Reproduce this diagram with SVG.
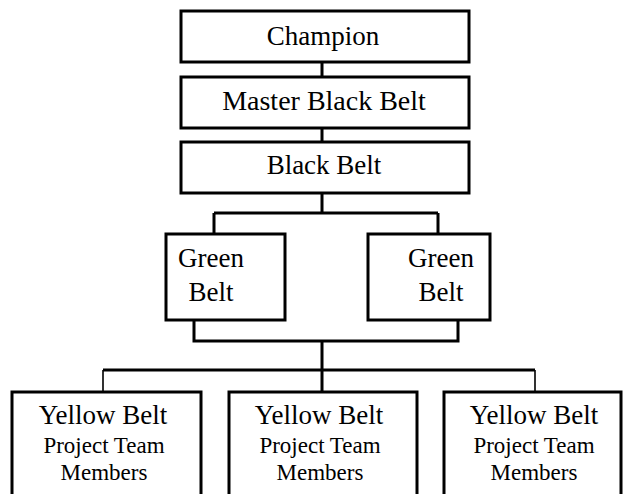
<svg xmlns="http://www.w3.org/2000/svg" width="623" height="494" viewBox="0 0 623 494">
<style>
.box{fill:#fff;stroke:#000;stroke-width:3}
.t{font-family:'Liberation Serif','Times New Roman',Times,serif;fill:#000;text-anchor:middle}
.big{font-size:27px}
.sm{font-size:23px}
.c{stroke:#000;stroke-width:3;fill:none}
.thin{stroke:#000;stroke-width:1.6;fill:none}
</style>
<rect width="623" height="494" fill="#fff"/>
<g id="connectors">
<path class="c" d="M322 62V77M322 128V142M322 193V213M214 213H438M214 213V234M438 213V234"/>
<path class="c" d="M194 320V341H458V320M322 341V392M103 370H535"/>
<path class="thin" d="M103 370V392M535 370V392"/>
</g>
<g id="champion"><rect class="box" x="181" y="11" width="288" height="51"/><text class="t big" x="323" y="45">Champion</text></g>
<g id="master"><rect class="box" x="181" y="77" width="288" height="51"/><text class="t big" x="324" y="110" style="font-size:28px">Master Black Belt</text></g>
<g id="blackbelt"><rect class="box" x="181" y="142" width="288" height="51"/><text class="t big" x="324" y="174">Black Belt</text></g>
<g id="green1"><rect class="box" x="166" y="234" width="119" height="86"/><text class="t big" x="211" y="267">Green</text><text class="t big" x="211" y="301">Belt</text></g>
<g id="green2"><rect class="box" x="368" y="234" width="122" height="86"/><text class="t big" x="441" y="267">Green</text><text class="t big" x="441" y="301">Belt</text></g>
<g id="yellow1"><rect class="box" x="12" y="392" width="189" height="110"/><text class="t big" x="103" y="424">Yellow Belt</text><text class="t sm" x="104" y="453">Project Team</text><text class="t sm" x="104" y="480">Members</text></g>
<g id="yellow2"><rect class="box" x="229" y="392" width="188" height="110"/><text class="t big" x="319" y="424">Yellow Belt</text><text class="t sm" x="320" y="453">Project Team</text><text class="t sm" x="320" y="480">Members</text></g>
<g id="yellow3"><rect class="box" x="444" y="392" width="177" height="110"/><text class="t big" x="534" y="424">Yellow Belt</text><text class="t sm" x="534" y="453">Project Team</text><text class="t sm" x="534" y="480">Members</text></g>
</svg>
